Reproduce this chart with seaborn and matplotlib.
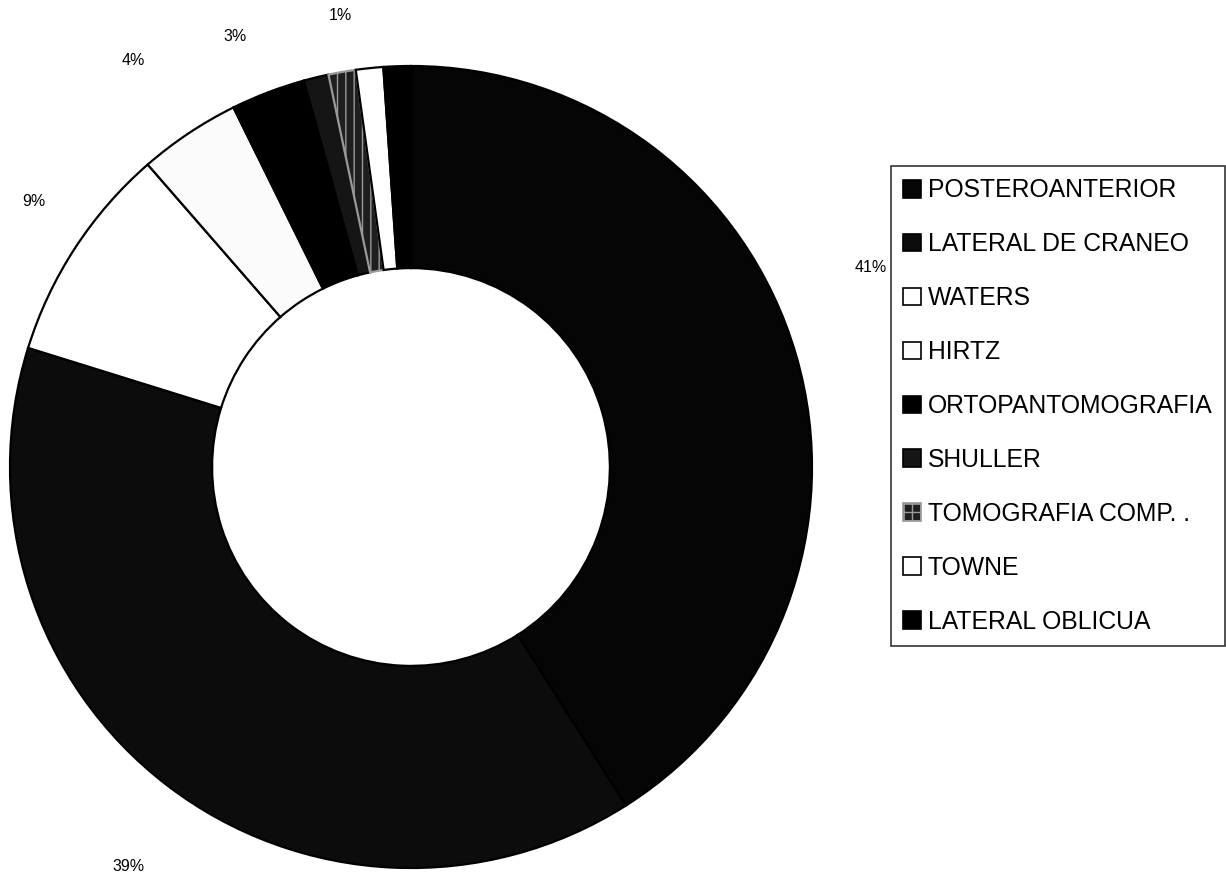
import numpy as np
import pandas as pd
import matplotlib
matplotlib.use('Agg')
import matplotlib.pyplot as plt
import matplotlib.patches as mpatches
import seaborn as sns

# data (share of studies, %)
categories = ['POSTEROANTERIOR', 'LATERAL DE CRANEO', 'WATERS', 'HIRTZ',
              'ORTOPANTOMOGRAFIA', 'SHULLER', 'TOMOGRAFIA COMP. .', 'TOWNE',
              'LATERAL OBLICUA']
shares = [41.0, 38.8, 8.8, 4.1, 3.0, 1.0, 1.1, 1.1, 1.1]
# only these labels survive on the original print
show_label = [True, True, True, True, True, False, True, False, False]

colors = ['#050505', '#0c0c0c', '#ffffff', '#fbfbfb', '#000000',
          '#151515', '#1e1e1e', '#ffffff', '#000000']
hatches = [None, None, None, None, None, None, '||', None, None]
# label placement (radius as fraction of R, angular nudge in degrees)
label_r = [1.25, 1.22, 1.15, 1.227, 1.16, 1.15, 1.14, 1.15, 1.15]
label_nudge = [-7.3, -2.1, 2.0, -0.7, -1.3, 0, 1.0, 0, 0]

df = pd.DataFrame({'category': categories, 'share': shares})
df['label'] = [f'{v:.0f}%' if s else '' for v, s in zip(df['share'], show_label)]

sns.set_theme(style='white')
plt.rcParams['font.family'] = ['Liberation Sans', 'DejaVu Sans']
plt.rcParams['text.color'] = 'black'

fig = plt.figure(figsize=(12.26, 8.75), dpi=100)
W, H = 1226, 875
cx, cy, R = 411, 875 - 467, 401
ax = fig.add_axes([(cx - R) / W, (cy - R) / H, 2 * R / W, 2 * R / H])

wedges, _ = ax.pie(
    df['share'], colors=colors, startangle=90, counterclock=False,
    wedgeprops=dict(width=0.504, edgecolor='black', linewidth=1.6))

for w, h in zip(wedges, hatches):
    if h:
        w.set_hatch(h)
        w.set_edgecolor('#9a9a9a')

# percentage labels around the ring, angle measured clockwise from 12 o'clock
ends = np.cumsum(df['share']) / df['share'].sum() * 360
mids = ends - df['share'] / df['share'].sum() * 360 / 2
for lab, m, r, nd in zip(df['label'], mids, label_r, label_nudge):
    if not lab:
        continue
    a = np.deg2rad(m + nd)
    ax.text(r * np.sin(a), r * np.cos(a), lab, ha='center', va='center',
            fontsize=11.5, color='black', clip_on=False)

ax.set_aspect('auto')
ax.set_xlim(-1, 1)
ax.set_ylim(-1, 1)
ax.axis('off')

handles = []
for c, h, name in zip(colors, hatches, df['category']):
    p = mpatches.Patch(facecolor=c, edgecolor='black', linewidth=1.2, label=name)
    if h:
        p.set_hatch('++')
        p.set_edgecolor('#9a9a9a')
    handles.append(p)

leg = fig.legend(handles=handles, loc='upper left',
                 bbox_to_anchor=(891 / W, 1 - 166 / H), borderaxespad=0,
                 fontsize=17.8, frameon=True, fancybox=False, edgecolor='black',
                 handlelength=0.72, handleheight=0.72, handletextpad=0.27,
                 borderpad=0.5, labelspacing=1.21)
leg.get_frame().set_linewidth(1.2)
for t in leg.get_texts():
    t.set_color('black')

fig.savefig('out.png', dpi=100, facecolor='white')
